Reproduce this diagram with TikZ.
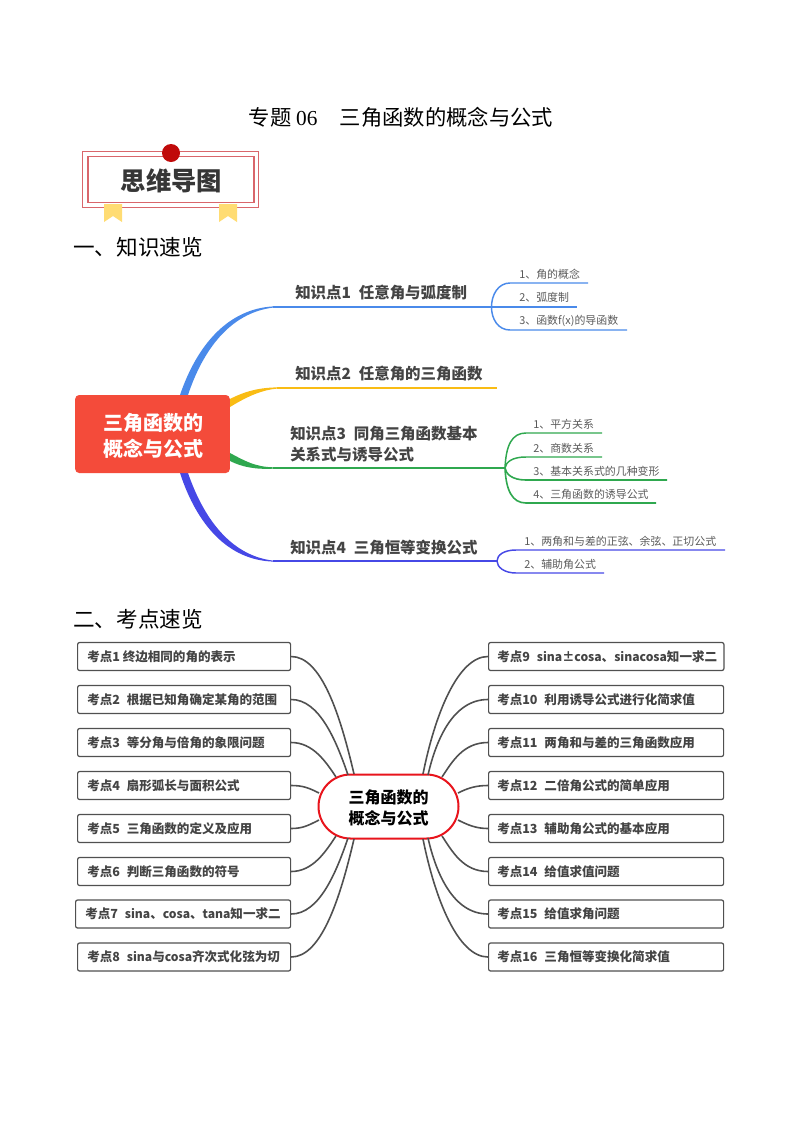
\documentclass[tikz,border=0pt]{standalone}
\usepackage{fontspec}
\setmainfont{Noto Sans CJK SC}
\newfontfamily\latinserif{Liberation Serif}
\definecolor{cblue}{HTML}{4A8AEA}
\definecolor{cyel}{HTML}{F9BC14}
\definecolor{cgreen}{HTML}{2FA84F}
\definecolor{cpurp}{HTML}{4648E6}
\definecolor{cred}{HTML}{F44B3A}
\definecolor{ctxt}{HTML}{444444}
\definecolor{cgray}{HTML}{5A5A5A}
\definecolor{cline}{HTML}{505050}
\definecolor{cbadge}{HTML}{D9666B}
\definecolor{cdot}{HTML}{C00A0A}
\definecolor{cribbon}{HTML}{FFDC73}
\definecolor{credl}{HTML}{E8141C}
\newcommand{\fs}[2]{\fontsize{#1pt}{#2pt}\selectfont}
\newcommand{\lat}[1]{{\fontsize{9.1pt}{12pt}\selectfont #1}}
\tikzset{
  head/.style={anchor=west,inner sep=0pt,text=black,font=\fs{16.2}{20}},
  topic/.style={anchor=west,inner sep=0pt,text=ctxt,font=\fs{11.6}{15.6}\bfseries,align=left},
  sub/.style={anchor=west,inner sep=0pt,text=cgray,font=\fs{8.2}{10}},
  kbox/.style={draw=cline,line width=0.9pt,rounded corners=1.5pt,fill=white,inner sep=0pt,minimum height=21pt,anchor=west},
  ktext/.style={anchor=west,inner sep=0pt,text=ctxt,font=\fs{9.4}{12}\bfseries},
  klink/.style={draw=cline,line width=1.2pt},
}
\begin{document}
\begin{tikzpicture}[x=0.75pt,y=-0.75pt]
\useasboundingbox (0,0) rectangle (800,1132);
% title
\node[inner sep=0pt,font=\fs{16}{20}] (title) at (401,117) {专题 {\latinserif 06}\hspace{1.05em}三角函数的概念与公式};
% badge
\node[draw=cbadge,line width=0.8pt,minimum width=132.5pt,minimum height=42.5pt,inner sep=0pt] (badgeo) at (170.5,179.5) {};
\node[draw=cbadge,line width=0.8pt,minimum width=124.5pt,minimum height=35pt,inner sep=0pt] (badgei) at (171,179.5) {};
\fill[cribbon] (104,204) -- (122,204) -- (122,222) -- (113,216) -- (104,222) -- cycle;
\fill[cribbon] (219,204) -- (237,204) -- (237,222) -- (228,216) -- (219,222) -- cycle;
\node[circle,fill=cdot,minimum size=13.5pt,inner sep=0pt] (dot) at (171,153) {};
\node[inner sep=0pt,text=ctxt!80!black,font=\fs{19}{22}\bfseries] (badge) at (171.5,181) {思维导图};
\node[head] (h1) at (73,247) {一、知识速览};
% tapered branches
\fill[cblue] (180,395) .. controls (197,345) and (228,309) .. (273,306.4) -- (273,307.6) .. controls (230,313) and (203,350) .. (188,395) -- cycle;
\fill[cyel] (229,399.5) .. controls (245,391) and (260,387.6) .. (277,387.4) -- (277,388.6) .. controls (262,390) and (248,396) .. (230,407) -- cycle;
\fill[cgreen] (230,453) .. controls (245,461) and (255,466.8) .. (273,467.3) -- (273,468.7) .. controls (255,469.5) and (242,467) .. (230,461) -- cycle;
\fill[cpurp] (180,473) .. controls (197,525) and (228,560) .. (273,561.6) -- (273,560.6) .. controls (235,556) and (206,525) .. (188,473) -- cycle;
% main lines
\coordinate (bs) at (273,307); \coordinate (be) at (577,307); \coordinate (bf) at (491.5,307);
\coordinate (b1) at (510,283); \coordinate (b1e) at (588,283);
\coordinate (b3) at (510,330); \coordinate (b3e) at (627,330);
\draw[cblue,line width=1.1pt] (bs) -- (be);
\draw[cblue,line width=1.1pt] (b1e) -- (b1) .. controls (498,283) and (491.5,295) .. (bf) .. controls (491.5,319) and (498,330) .. (b3) -- (b3e);
\coordinate (ys) at (277,388); \coordinate (ye) at (497,388);
\draw[cyel,line width=1.1pt] (ys) -- (ye);
\coordinate (gs) at (273,468); \coordinate (gf) at (505,468);
\coordinate (g1) at (526,433); \coordinate (g1e) at (602,433);
\coordinate (g2) at (526,457); \coordinate (g2e) at (602,457);
\coordinate (g3) at (526,480); \coordinate (g3e) at (667,480);
\coordinate (g4) at (526,503); \coordinate (g4e) at (656,503);
\draw[cgreen,line width=1.2pt] (gs) -- (gf);
\draw[cgreen,line width=1.1pt] (gf) .. controls (506,445) and (512,433) .. (g1) -- (g1e);
\draw[cgreen,line width=1.1pt] (gf) .. controls (506,462) and (512,457) .. (g2) -- (g2e);
\draw[cgreen,line width=1.2pt] (gf) .. controls (506,474) and (512,480) .. (g3) -- (g3e);
\draw[cgreen,line width=1.2pt] (gf) .. controls (506,490) and (512,503) .. (g4) -- (g4e);
\coordinate (ps) at (273,561); \coordinate (pf) at (497,561);
\coordinate (p1) at (516,550); \coordinate (p1e) at (725,550);
\coordinate (p2) at (516,573); \coordinate (p2e) at (604,573);
\draw[cpurp,line width=1.1pt] (ps) -- (pf);
\draw[cpurp,line width=1.1pt] (p1e) -- (p1) .. controls (504,550) and (497,555) .. (pf) .. controls (497,567) and (504,573) .. (p2) -- (p2e);
% root
\node[fill=cred,rounded corners=3pt,minimum width=116pt,minimum height=58.5pt,inner sep=0pt] (root) at (152.5,434) {};
\node[inner sep=0pt,text=white,align=center,font=\fs{15}{19.5}\bfseries] (rootlabel) at (153,435.5) {三角函数的\\概念与公式};
% topics
\node[topic] (t1) at (295,293) {知识点1\hspace{0.5em}任意角与弧度制};
\node[topic] (t2) at (295,374) {知识点2\hspace{0.5em}任意角的三角函数};
\node[topic] (t3) at (290,444) {知识点3\hspace{0.5em}同角三角函数基本\\关系式与诱导公式};
\node[topic] (t4) at (290,548) {知识点4\hspace{0.5em}三角恒等变换公式};
% subs
\node[sub] (s11) at (519,274) {1、角的概念};
\node[sub] (s12) at (519,297.5) {2、弧度制};
\node[sub] (s13) at (519,321) {3、函数f(x)的导函数};
\node[sub] (s31) at (533,424.5) {1、平方关系};
\node[sub] (s32) at (533,448) {2、商数关系};
\node[sub] (s33) at (533,471) {3、基本关系式的几种变形};
\node[sub] (s34) at (533,494.5) {4、三角函数的诱导公式};
\node[sub] (s41) at (524,541) {1、两角和与差的正弦、余弦、正切公式};
\node[sub] (s42) at (524,564) {2、辅助角公式};
\node[head] (h2) at (73,619) {二、考点速览};
% center + boxes
\foreach \n/\y in {1/656.5,2/699.5,3/742.5,4/785.5,5/828.5,6/871.5,8/957}{
  \node[kbox,minimum width=159.75pt] (l\n) at (77,\y) {};
}
\node[kbox,minimum width=161.25pt] (l7) at (75,914) {};
\node[kbox,minimum width=176.5pt] (r1) at (488,656.5) {};
\foreach \n/\y in {2/699.5,3/742.5,4/785.5,5/828.5,6/871.5,7/914,8/957}{
  \node[kbox,minimum width=176.25pt] (r\n) at (488,\y) {};
}
\node[draw=credl,line width=1.5pt,rounded corners=24pt,fill=white,minimum width=105pt,minimum height=48pt,inner sep=0pt] (c) at (388.5,806.5) {};
\node[inner sep=0pt,align=center,text=black,font=\fs{12}{15.75}\bfseries] (clabel) at (388.5,807.5) {三角函数的\\概念与公式};
\coordinate (a1) at (354,774); \coordinate (a2) at (348,775); \coordinate (a3) at (336,777);
\coordinate (a4) at (319,793); \coordinate (a5) at (319,820); \coordinate (a6) at (336,836);
\coordinate (a7) at (348,838); \coordinate (a8) at (354,839);
\coordinate (b1x) at (423,774); \coordinate (b2x) at (428,775); \coordinate (b3x) at (442,777);
\coordinate (b4x) at (458,793); \coordinate (b5x) at (458,820); \coordinate (b6x) at (442,836);
\coordinate (b7x) at (428,838); \coordinate (b8x) at (423,839);
\draw[klink] (l1.east) .. controls +(30,0) and +(-14,-60) .. (a1);
\draw[klink] (l2.east) .. controls +(28,0) and +(-12,-35) .. (a2);
\draw[klink] (l3.east) .. controls +(22,0) and +(-10,-15) .. (a3);
\draw[klink] (l4.east) .. controls +(12,0) and +(-10,-5) .. (a4);
\draw[klink] (l5.east) .. controls +(12,0) and +(-10,5) .. (a5);
\draw[klink] (l6.east) .. controls +(22,0) and +(-10,15) .. (a6);
\draw[klink] (l7.east) .. controls +(28,0) and +(-12,35) .. (a7);
\draw[klink] (l8.east) .. controls +(30,0) and +(-14,60) .. (a8);
\draw[klink] (r1.west) .. controls +(-30,0) and +(12,-60) .. (b1x);
\draw[klink] (r2.west) .. controls +(-35,0) and +(8,-35) .. (b2x);
\draw[klink] (r3.west) .. controls +(-25,0) and +(10,-15) .. (b3x);
\draw[klink] (r4.west) .. controls +(-12,0) and +(10,-5) .. (b4x);
\draw[klink] (r5.west) .. controls +(-12,0) and +(10,5) .. (b5x);
\draw[klink] (r6.west) .. controls +(-25,0) and +(10,15) .. (b6x);
\draw[klink] (r7.west) .. controls +(-35,0) and +(8,35) .. (b7x);
\draw[klink] (r8.west) .. controls +(-30,0) and +(12,60) .. (b8x);
% box texts
\node[ktext] (lt1) at (87,656.5) {考点1 终边相同的角的表示};
\node[ktext] (lt2) at (87,699.5) {考点2\hspace{0.55em}根据已知角确定某角的范围};
\node[ktext] (lt3) at (87,742.5) {考点3\hspace{0.55em}等分角与倍角的象限问题};
\node[ktext] (lt4) at (87,785.5) {考点4\hspace{0.55em}扇形弧长与面积公式};
\node[ktext] (lt5) at (87,828.5) {考点5\hspace{0.55em}三角函数的定义及应用};
\node[ktext] (lt6) at (87,871.5) {考点6\hspace{0.55em}判断三角函数的符号};
\node[ktext] (lt7) at (85,914) {考点7\hspace{0.55em}\lat{sina}、\lat{cosa}、\lat{tana}知一求二};
\node[ktext] (lt8) at (87,957) {考点8\hspace{0.55em}\lat{sina}与\lat{cosa}齐次式化弦为切};
\node[ktext] (rt1) at (497,656.5) {考点9\hspace{0.55em}\lat{sina±cosa}、\lat{sinacosa}知一求二};
\node[ktext] (rt2) at (497,699.5) {考点10\hspace{0.55em}利用诱导公式进行化简求值};
\node[ktext] (rt3) at (497,742.5) {考点11\hspace{0.55em}两角和与差的三角函数应用};
\node[ktext] (rt4) at (497,785.5) {考点12\hspace{0.55em}二倍角公式的简单应用};
\node[ktext] (rt5) at (497,828.5) {考点13\hspace{0.55em}辅助角公式的基本应用};
\node[ktext] (rt6) at (497,871.5) {考点14\hspace{0.55em}给值求值问题};
\node[ktext] (rt7) at (497,914) {考点15\hspace{0.55em}给值求角问题};
\node[ktext] (rt8) at (497,957) {考点16\hspace{0.55em}三角恒等变换化简求值};
\end{tikzpicture}
\end{document}
